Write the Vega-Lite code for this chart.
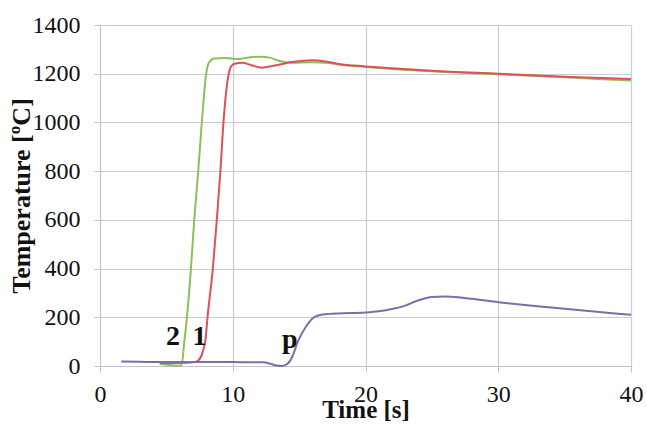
{
  "$schema": "https://vega.github.io/schema/vega-lite/v6.json",
  "autosize": {"type": "none"},
  "width": 531,
  "height": 341,
  "padding": {"left": 100, "top": 25, "right": 16, "bottom": 59},
  "background": "white",
  "config": {
    "font": "Liberation Serif",
    "view": {"stroke": null},
    "axis": {
      "gridColor": "#c8ccd4",
      "gridWidth": 1.2,
      "domainColor": "#c0c4cc",
      "tickColor": "#c0c4cc",
      "tickSize": 6,
      "labelFont": "Liberation Serif",
      "labelFontSize": 24,
      "labelColor": "#111",
      "titleFont": "Liberation Serif",
      "titleFontSize": 26,
      "titleFontWeight": "bold",
      "titleColor": "#111"
    }
  },
  "datasets": {
    "curves": [
      {"t": 4.5, "temp": 8, "s": "2"},
      {"t": 5.2, "temp": 4, "s": "2"},
      {"t": 5.9, "temp": 1, "s": "2"},
      {"t": 6.15, "temp": 5, "s": "2"},
      {"t": 6.35, "temp": 100, "s": "2"},
      {"t": 6.55, "temp": 200, "s": "2"},
      {"t": 6.85, "temp": 400, "s": "2"},
      {"t": 7.1, "temp": 600, "s": "2"},
      {"t": 7.4, "temp": 800, "s": "2"},
      {"t": 7.67, "temp": 1000, "s": "2"},
      {"t": 8.0, "temp": 1200, "s": "2"},
      {"t": 8.2, "temp": 1245, "s": "2"},
      {"t": 8.6, "temp": 1262, "s": "2"},
      {"t": 9.5, "temp": 1265, "s": "2"},
      {"t": 10.3, "temp": 1260, "s": "2"},
      {"t": 11, "temp": 1265, "s": "2"},
      {"t": 12, "temp": 1270, "s": "2"},
      {"t": 12.8, "temp": 1266, "s": "2"},
      {"t": 13.5, "temp": 1252, "s": "2"},
      {"t": 14.5, "temp": 1245, "s": "2"},
      {"t": 16, "temp": 1247, "s": "2"},
      {"t": 17, "temp": 1245, "s": "2"},
      {"t": 18, "temp": 1238, "s": "2"},
      {"t": 20, "temp": 1228, "s": "2"},
      {"t": 25, "temp": 1210, "s": "2"},
      {"t": 30, "temp": 1198, "s": "2"},
      {"t": 35, "temp": 1185, "s": "2"},
      {"t": 40, "temp": 1172, "s": "2"},

      {"t": 4.5, "temp": 12, "s": "1"},
      {"t": 5.5, "temp": 12, "s": "1"},
      {"t": 6.5, "temp": 13, "s": "1"},
      {"t": 7.2, "temp": 17, "s": "1"},
      {"t": 7.5, "temp": 28, "s": "1"},
      {"t": 7.75, "temp": 60, "s": "1"},
      {"t": 7.95, "temp": 110, "s": "1"},
      {"t": 8.1, "temp": 200, "s": "1"},
      {"t": 8.5, "temp": 400, "s": "1"},
      {"t": 8.8, "temp": 600, "s": "1"},
      {"t": 9.07, "temp": 800, "s": "1"},
      {"t": 9.3, "temp": 1000, "s": "1"},
      {"t": 9.7, "temp": 1200, "s": "1"},
      {"t": 9.9, "temp": 1232, "s": "1"},
      {"t": 10.2, "temp": 1242, "s": "1"},
      {"t": 10.7, "temp": 1245, "s": "1"},
      {"t": 11.4, "temp": 1235, "s": "1"},
      {"t": 12.2, "temp": 1225, "s": "1"},
      {"t": 13, "temp": 1232, "s": "1"},
      {"t": 14.5, "temp": 1248, "s": "1"},
      {"t": 16, "temp": 1255, "s": "1"},
      {"t": 17, "temp": 1250, "s": "1"},
      {"t": 18, "temp": 1240, "s": "1"},
      {"t": 20, "temp": 1230, "s": "1"},
      {"t": 22, "temp": 1222, "s": "1"},
      {"t": 25, "temp": 1212, "s": "1"},
      {"t": 30, "temp": 1200, "s": "1"},
      {"t": 35, "temp": 1188, "s": "1"},
      {"t": 40, "temp": 1178, "s": "1"},

      {"t": 1.6, "temp": 18, "s": "p"},
      {"t": 3, "temp": 17, "s": "p"},
      {"t": 5, "temp": 16, "s": "p"},
      {"t": 8, "temp": 16, "s": "p"},
      {"t": 10, "temp": 16, "s": "p"},
      {"t": 12.3, "temp": 15, "s": "p"},
      {"t": 12.9, "temp": 8, "s": "p"},
      {"t": 13.3, "temp": 2, "s": "p"},
      {"t": 13.7, "temp": 0, "s": "p"},
      {"t": 14.1, "temp": 8, "s": "p"},
      {"t": 14.5, "temp": 40, "s": "p"},
      {"t": 14.9, "temp": 100, "s": "p"},
      {"t": 15.5, "temp": 160, "s": "p"},
      {"t": 16, "temp": 195, "s": "p"},
      {"t": 16.5, "temp": 208, "s": "p"},
      {"t": 17.3, "temp": 214, "s": "p"},
      {"t": 18, "temp": 216, "s": "p"},
      {"t": 20, "temp": 220, "s": "p"},
      {"t": 21, "temp": 225, "s": "p"},
      {"t": 22, "temp": 234, "s": "p"},
      {"t": 23, "temp": 248, "s": "p"},
      {"t": 24, "temp": 270, "s": "p"},
      {"t": 25, "temp": 283, "s": "p"},
      {"t": 26, "temp": 285, "s": "p"},
      {"t": 27, "temp": 282, "s": "p"},
      {"t": 28, "temp": 276, "s": "p"},
      {"t": 30, "temp": 262, "s": "p"},
      {"t": 32, "temp": 250, "s": "p"},
      {"t": 34, "temp": 240, "s": "p"},
      {"t": 36, "temp": 230, "s": "p"},
      {"t": 38, "temp": 220, "s": "p"},
      {"t": 40, "temp": 210, "s": "p"}
    ],
    "labels": [
      {"t": 5.5, "temp": 86, "label": "2"},
      {"t": 7.5, "temp": 86, "label": "1"},
      {"t": 14.3, "temp": 74, "label": "p"}
    ]
  },
  "layer": [
    {
      "data": {"name": "curves"},
      "mark": {"type": "line", "interpolate": "monotone", "strokeWidth": 2},
      "encoding": {
        "x": {
          "field": "t", "type": "quantitative",
          "scale": {"domain": [0, 40], "nice": false},
          "axis": {"values": [0, 10, 20, 30, 40], "format": "d", "title": "Time [s]", "titleFontSize": 25, "labelPadding": 10, "titlePadding": -9, "labelFlush": false}
        },
        "y": {
          "field": "temp", "type": "quantitative",
          "scale": {"domain": [0, 1400], "nice": false},
          "axis": {"values": [0, 200, 400, 600, 800, 1000, 1200, 1400], "format": "d", "title": "Temperature [ºC]", "labelPadding": 14, "titlePadding": -2}
        },
        "color": {
          "field": "s", "type": "nominal",
          "scale": {"domain": ["2", "1", "p"], "range": ["#8cc15a", "#e0505a", "#7d6da8"]},
          "legend": null
        },
        "order": {"field": "t", "type": "quantitative"}
      }
    },
    {
      "data": {"name": "labels"},
      "mark": {"type": "text", "font": "Liberation Serif", "fontWeight": "bold", "fontSize": 28, "baseline": "alphabetic", "align": "center", "color": "#111"},
      "encoding": {
        "x": {"field": "t", "type": "quantitative"},
        "y": {"field": "temp", "type": "quantitative"},
        "text": {"field": "label"}
      }
    }
  ]
}
